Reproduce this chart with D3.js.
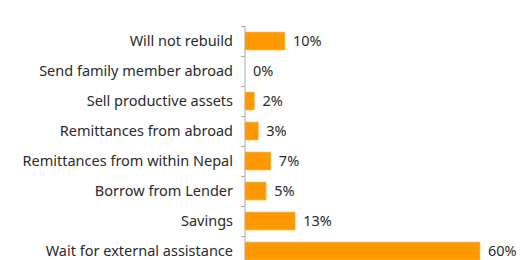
<!DOCTYPE html>
<html lang="en">
<head>
    <meta charset="UTF-8">
    <title>rebuild</title>
    <style>
        body { margin: 0; background: #fff; }
        text { font-family: "Noto Sans", sans-serif; fill: #2b2b2b; }
    </style>
</head>
<body>
<svg id="chart"></svg>

<script src="https://cdn.jsdelivr.net/npm/d3@7"></script>
<script>
    var width = 524;
    var height = 260;
    var categories = ["Will not rebuild", "Send family member abroad", "Sell productive assets",
        "Remittances from abroad", "Remittances from within Nepal", "Borrow from Lender",
        "Savings", "Wait for external assistance"];
    var values = [10.2, 0, 2.4, 3.4, 6.6, 5.4, 12.8, 60];
    var labels = ["10%", "0%", "2%", "3%", "7%", "5%", "13%", "60%"];

    var margin = {top: 26, left: 245};
    var step = 30;

    var svg = d3.select("#chart")
        .attr("width", width)
        .attr("height", height);

    var g = svg.append("g")
        .attr("transform", "translate(" + margin.left + "," + margin.top + ")");

    // 带状比例尺
    var y = d3.scaleBand()
        .domain(categories)
        .range([0, step * categories.length])
        .paddingInner(0.4)
        .paddingOuter(0.2);

    var x = d3.scaleLinear()
        .domain([0, 60])
        .range([0, 235]);

    g.selectAll("rect")
        .data(values)
        .enter()
        .append("rect")
        .attr("x", 0)
        .attr("y", function(d, i) { return y(categories[i]); })
        .attr("width", function(d) { return x(d); })
        .attr("height", y.bandwidth())
        .attr("fill", "#ff9900")
        .attr("stroke", "#ffc266")
        .attr("stroke-width", 0.6);

    g.selectAll(".val")
        .data(values)
        .enter()
        .append("text")
        .attr("class", "val")
        .attr("x", function(d) { return x(d) + 8; })
        .attr("y", function(d, i) { return y(categories[i]) + y.bandwidth() / 2; })
        .attr("dy", "0.35em")
        .attr("font-size", 14.5)
        .text(function(d, i) { return labels[i]; });

    // 分类轴, 刻度在每个分类边界
    var axis = g.append("g").attr("class", "axis");
    axis.append("line")
        .attr("x1", 0).attr("x2", 0)
        .attr("y1", 0).attr("y2", step * categories.length)
        .attr("stroke", "#aaa");
    axis.selectAll(".tick")
        .data(d3.range(categories.length + 1))
        .enter()
        .append("line")
        .attr("x1", -4).attr("x2", 0)
        .attr("y1", function(d) { return d * step + 0.5; })
        .attr("y2", function(d) { return d * step + 0.5; })
        .attr("stroke", "#aaa");

    axis.selectAll(".cat")
        .data(categories)
        .enter()
        .append("text")
        .attr("class", "cat")
        .attr("x", -12)
        .attr("y", function(d) { return y(d) + y.bandwidth() / 2; })
        .attr("dy", "0.35em")
        .attr("text-anchor", "end")
        .attr("font-size", 14.5)
        .text(function(d) { return d; });
</script>
</body>
</html>
